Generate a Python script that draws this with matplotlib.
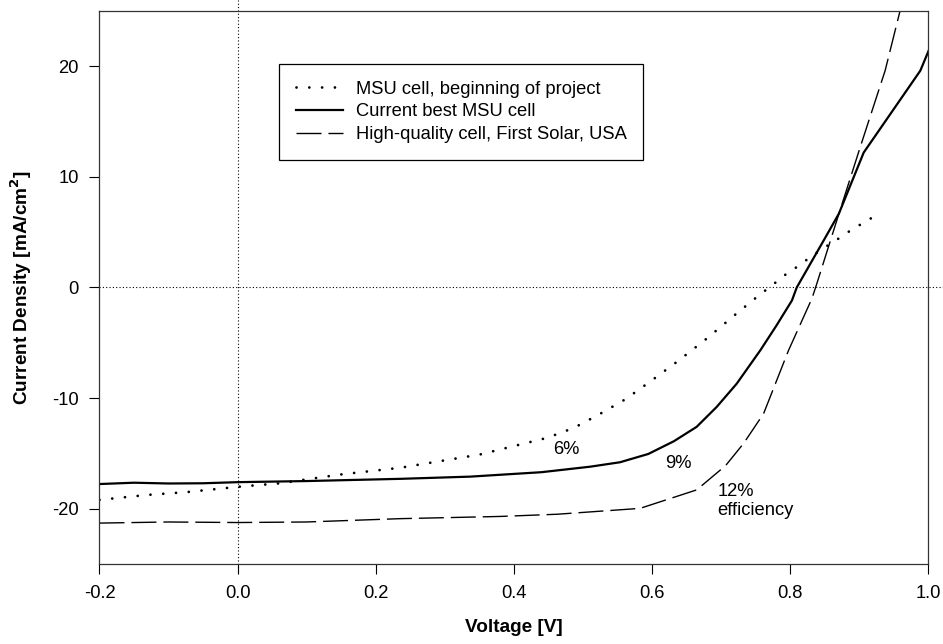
import matplotlib.pyplot as plt

plt.rcParams['font.family'] = ['Liberation Sans', 'DejaVu Sans']
plt.rcParams['axes.unicode_minus'] = False

# MSU cell, beginning of project (dotted)
v_start = [-0.2, -0.132, -0.074, 0.004, 0.062, 0.1, 0.15, 0.2355, 0.351, 0.448, 0.487,
           0.523, 0.562, 0.600, 0.639, 0.68, 0.72, 0.755, 0.774, 0.792, 0.812,
           0.831, 0.850, 0.870, 0.889, 0.908, 0.927]
j_start = [-19.2, -18.76, -18.5, -18.0, -17.7, -17.35, -16.9, -16.3, -15.1, -13.6, -12.7,
           -11.5, -10.1, -8.4, -6.6, -4.6, -2.5, -0.72, 0.18, 1.09, 1.93,
           2.8, 3.6, 4.4, 5.2, 5.9, 6.6]

# Current best MSU cell (solid)
v_best = [-0.2, -0.15, -0.1, -0.05, 0.0, 0.1, 0.2355, 0.337, 0.44, 0.511, 0.554,
          0.595, 0.632, 0.665, 0.694, 0.723, 0.757, 0.78, 0.803, 0.810, 0.849,
          0.871, 0.907, 0.989, 1.001]
j_best = [-17.77, -17.65, -17.72, -17.7, -17.6, -17.5, -17.3, -17.1, -16.7, -16.2, -15.8,
          -15.05, -13.9, -12.6, -10.8, -8.7, -5.7, -3.5, -1.18, 0.0, 4.25,
          6.67, 12.2, 19.6, 21.4]

# High-quality cell, First Solar, USA (dashed)
v_fs = [-0.2, -0.1, 0.0, 0.1, 0.2355, 0.38, 0.463, 0.583, 0.665, 0.707, 0.733,
        0.762, 0.798, 0.832, 0.839, 0.868, 0.902, 0.938, 0.962]
j_fs = [-21.3, -21.2, -21.25, -21.2, -20.9, -20.7, -20.5, -19.97, -18.3, -16.1, -14.1,
        -11.4, -5.7, -1.0, 0.33, 6.06, 12.7, 19.6, 25.6]

labels = ['MSU cell, beginning of project', 'Current best MSU cell',
          'High-quality cell, First Solar, USA']
x_ticks = [-0.2, 0.0, 0.2, 0.4, 0.6, 0.8, 1.0]
y_ticks = [-20, -10, 0, 10, 20]

FS = 13.2

fig = plt.figure(figsize=(9.43, 6.44), dpi=100)
ax = fig.add_axes([0.1055, 0.1242, 0.8785, 0.8588])

# reference lines through the origin
ax.plot([-0.2, 1.022], [0, 0], color='black', lw=0.8, ls=(0, (1, 2)), clip_on=False)
ax.plot([0, 0], [-25.6, 26], color='black', lw=0.8, ls=(0, (1, 2)), clip_on=False)

ax.plot(v_start, j_start, color='black', lw=2.0, ls=(0, (0.01, 4.6)),
        dash_capstyle='round', label=labels[0])
ax.plot(v_best, j_best, color='black', lw=1.6, label=labels[1])
ax.plot(v_fs, j_fs, color='black', lw=1.0, ls=(0, (18, 5)), label=labels[2])

ax.set_xlim(-0.2, 1.0)
ax.set_ylim(-25, 25)
ax.set_xticks(x_ticks)
ax.set_xticklabels([f'{t:.1f}' for t in x_ticks])
ax.set_yticks(y_ticks)
ax.tick_params(direction='out', length=7, width=0.8, labelsize=FS, pad=8)

for s in ax.spines.values():
    s.set_linewidth(0.9)
    s.set_color('#333333')

ax.set_xlabel('Voltage [V]', fontsize=FS + 0.5, fontweight='bold', labelpad=12)
ax.set_ylabel('Current Density [mA/cm$^\\mathbf{2}$]', fontsize=FS + 0.5,
              fontweight='bold', labelpad=13)

ax.text(0.476, -14.66, '6%', fontsize=FS, ha='center', va='center')
ax.text(0.638, -15.93, '9%', fontsize=FS, ha='center', va='center')
ax.text(0.695, -19.28, '12%\nefficiency', fontsize=FS, ha='left', va='center',
        linespacing=1.15)

leg = ax.legend(loc='upper left', bbox_to_anchor=(0.2167, 0.904), fontsize=FS,
                frameon=True, fancybox=False, edgecolor='black', framealpha=1,
                handlelength=2.6, handletextpad=0.7, borderpad=0.9,
                labelspacing=0.32, borderaxespad=0)
leg.get_frame().set_linewidth(0.9)

fig.savefig('out.png', dpi=100)
